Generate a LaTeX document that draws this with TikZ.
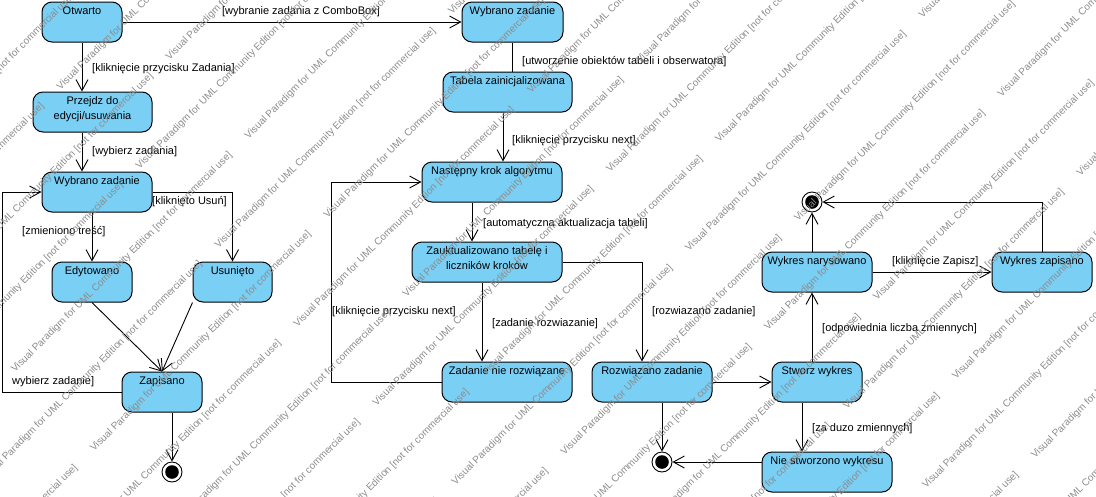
\documentclass[tikz,border=0pt]{standalone}
\usepackage{fontspec}
\setmainfont{Liberation Sans}
\usetikzlibrary{arrows.meta}
\definecolor{statefill}{RGB}{122,207,245}
\definecolor{wmark}{RGB}{140,140,140}
\newcommand\twolines[2]{\begin{tabular}[t]{@{}c@{}}#1\\#2\end{tabular}}

\begin{document}
\begin{tikzpicture}[x=1pt,y=-1pt,
  font=\fontsize{11}{15}\selectfont,
  state/.style={draw=black, fill=statefill, rounded corners=10pt, line width=1pt,
    minimum height=40pt, inner xsep=2pt, inner ysep=3pt,
    text height=9pt, text depth=25pt},
  trans/.style={draw=black, line width=0.9pt, -{Straight Barb[length=11pt,width=12pt]}},
  plain/.style={draw=black, line width=0.9pt},
  guard/.style={inner sep=0pt, anchor=base west},
  final/.style={circle, draw=black, fill=white, minimum size=20pt, inner sep=0pt,
    line width=0.9pt, path picture={\fill[black] (path picture bounding box.center) circle (6.8pt);}},
  wm/.style={rotate=45, anchor=base west, inner sep=0pt, text=wmark,
    font=\fontsize{10}{12}\selectfont}]

\useasboundingbox (0,0) rectangle (1096,496);

% ---- states ----
\node[state, minimum width=80pt]  (otw) at (82,22)    {Otwarto};
\node[state, minimum width=119pt] (prz) at (92.5,112) {\twolines{Przejdz do}{edycji/usuwania}};
\node[state, minimum width=110pt] (wzl) at (97,192)   {Wybrano zadanie};
\node[state, minimum width=80pt]  (edy) at (92,282)   {Edytowano};
\node[state, minimum width=79pt]  (usu) at (232.5,282){Usunięto};
\node[state, minimum width=80pt]  (zap) at (162,392)  {Zapisano};
\node[final] (f1) at (172,472) {};

\node[state, minimum width=101pt] (wzt) at (512.5,22) {Wybrano zadanie};
\node[state, minimum width=129pt] (tab) at (507.5,92) {Tabela zainicjalizowana};
\node[state, minimum width=140pt] (nas) at (492,182)  {Następny krok algorytmu};
\node[state, minimum width=150pt] (zak) at (487,262)  {\twolines{Zauktualizowano tabelę i}{liczników kroków}};
\node[state, minimum width=130pt] (znr) at (507,382)  {Zadanie nie rozwiązane};
\node[state, minimum width=120pt] (roz) at (652,382)  {Rozwiązano zadanie};
\node[final] (f2) at (662,462) {};

\node[state, minimum width=90pt]  (stw) at (817,382)  {Stworz wykres};
\node[state, minimum width=130pt] (nie) at (827,472)  {Nie stworzono wykresu};
\node[state, minimum width=110pt] (wna) at (817,272)  {Wykres narysowano};
\node[state, minimum width=100pt] (wzp) at (1042,272) {Wykres zapisano};
\node[final] (f3) at (812,202) {};

% ---- transitions ----
\draw[trans] (otw.east) -- (wzt.west);
\draw[trans] (otw.south) -- (otw.south |- prz.north);
\draw[trans] (prz.south -| otw.south) -- (wzl.north -| otw.south);
\draw[plain] (wzt.south) -- (wzt.south |- tab.north);
\draw[trans] ([xshift=-4.5pt]tab.south) -- ([xshift=-4.5pt]tab.south |- nas.north);
\draw[trans] ([xshift=-20pt]nas.south) -- ([xshift=-20pt]nas.south |- zak.north);
\draw[trans] ([xshift=-5pt]zak.south) -- ([xshift=-5pt]zak.south |- znr.north);
\draw[trans] (zak.east) -| ([xshift=-10pt]roz.north);
\draw[trans] (znr.west) -- ++(-110,0) |- (nas.west);
\draw[trans] (roz.east) -- (stw.west);
\draw[trans] (roz.south -| f2) -- (f2.north);
\draw[trans] (nie.west |- f2) -- (f2.east);
\draw[trans] ([xshift=-15pt]stw.south) -- ([xshift=-15pt]stw.south |- nie.north);
\draw[trans] (stw.north -| f3) -- (wna.south -| f3);
\draw[trans] (wna.north -| f3) -- (f3.south);
\draw[trans] (wna.east) -- (wzp.west);
\draw[trans] (wzp.north) |- (f3.east);
\draw[trans] (wzl.south -| edy.north) -- (edy.north);
\draw[trans] (wzl.east) -| (usu.north);
\draw[trans] (edy.south) -- (zap.north);
\draw[trans] (usu.south west) -- (zap.north);
\draw[trans] (zap.west) -- ++(-119,0) |- (wzl.west);
\draw[trans] (zap.south -| f1) -- (f1.north);

% ---- guards ----
\node[guard, anchor=base] (g1) at (301,14) {[wybranie zadania z ComboBox]};
\node[guard] (g2)  at (92,71)   {[kliknięcie przycisku Zadania]};
\node[guard] (g3)  at (92,154)  {[wybierz zadania]};
\node[guard] (g4)  at (522,64)  {[utworzenie obiektów tabeli i obserwatora]};
\node[guard] (g5)  at (512,143) {[kliknięcie przycisku next]};
\node[guard] (g6)  at (152,204) {[kliknięto Usuń]};
\node[guard] (g7)  at (22,234)  {[zmieniono treść]};
\node[guard] (g8)  at (12,384)  {wybierz zadanie]};
\node[guard] (g9)  at (483,226) {[automatyczna aktualizacja tabeli]};
\node[guard] (g10) at (332,314) {[kliknięcie przycisku next]};
\node[guard] (g11) at (492,326) {[zadanie rozwiazanie]};
\node[guard] (g12) at (652,314) {[rozwiazano zadanie]};
\node[guard] (g13) at (892,264) {[kliknięcie Zapisz]};
\node[guard] (g14) at (822,331) {[odpowiednia liczba zmiennych]};
\node[guard] (g15) at (812,431) {[za duzo zmiennych]};

% ---- edition watermark, tiled along 45 degree lines ----
\begin{scope}
\clip (0,0) rectangle (1096,496);
\foreach \k in {0,...,23}{
  \foreach \n in {-3,...,3}{
    \pgfmathsetmacro\wt{-165+79*\k}
    \pgfmathsetmacro\ws{-30+467*\n+139*mod(\k,2)}
    \node[wm] (wm-\k-\n) at ({(\ws+\wt)/2},{(\wt-\ws)/2})
      {Visual Paradigm for UML Community Edition [not for commercial use]};
  }}
\end{scope}
\end{tikzpicture}
\end{document}
